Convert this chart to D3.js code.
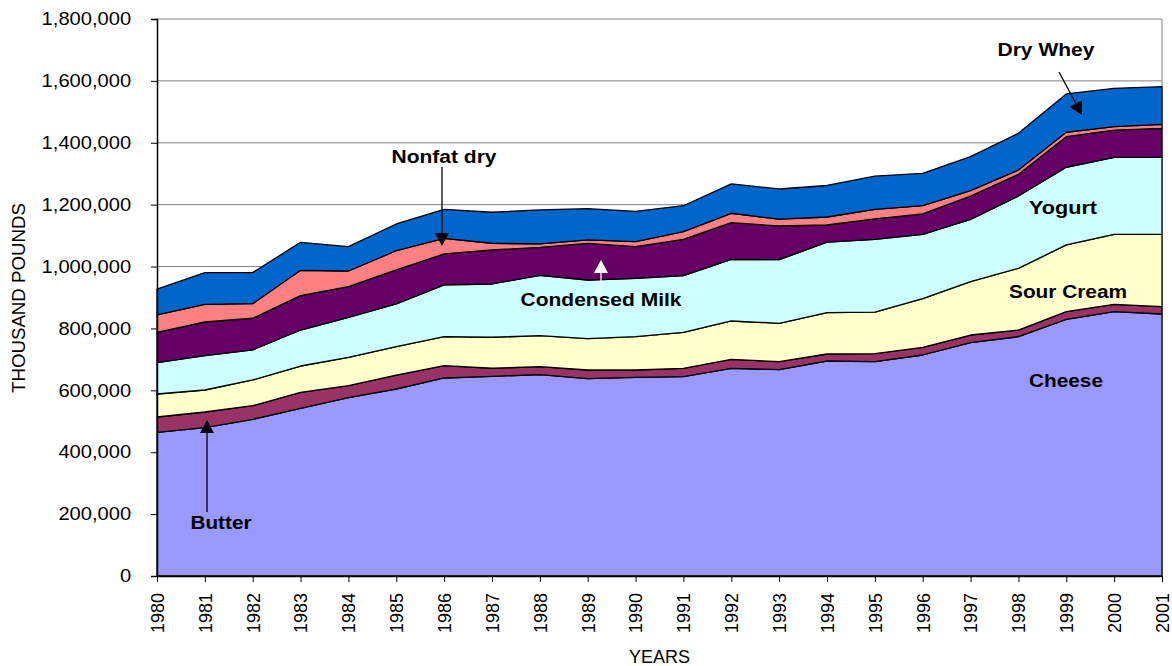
<!DOCTYPE html>
<html>
<head>
<meta charset="UTF-8">
<title>Dairy products</title>
<script src="https://d3js.org/d3.v7.min.js"></script>
<style>
  body { margin: 0; background: #fff; }
  svg { font-family: "Liberation Sans", Arial, sans-serif; }
  .note { font-weight: bold; font-size: 18px; fill: #000; }
</style>
</head>
<body>
<div id="chart"></div>
<script>
// data (thousand pounds)
const years = [1980, 1981, 1982, 1983, 1984, 1985, 1986, 1987, 1988, 1989, 1990,
               1991, 1992, 1993, 1994, 1995, 1996, 1997, 1998, 1999, 2000, 2001];
const cheese    = [464400, 479300, 506400, 541900, 576200, 604300, 639900, 645400, 650500, 637600, 642100,
                   644100, 671200, 666700, 694800, 692500, 714200, 753900, 773300, 829600, 854100, 846700];
const butter    = [49400, 50700, 44000, 51700, 38800, 45200, 39800, 25900, 25900, 28100, 23600,
                   27100, 29100, 25900, 22600, 25900, 24900, 24900, 21600, 24600, 23900, 23600];
const sourCream = [74400, 71100, 83100, 85000, 91800, 91500, 93700, 100200, 100200, 101200, 107600,
                   116300, 123800, 124100, 133500, 134100, 157100, 172200, 199400, 215600, 226200, 234000];
const yogurt    = [101200, 110800, 97000, 116300, 129300, 138000, 167100, 172200, 195200, 189700, 188700,
                   182900, 199400, 205500, 227800, 235600, 208100, 201700, 233700, 251100, 248800, 248800];
const condensed = [98200, 108900, 102400, 110900, 98900, 109900, 100200, 109900, 90500, 118600, 102100,
                   117600, 118300, 108900, 55600, 66300, 65600, 75300, 70100, 98900, 88200, 93700];
const nonfatDry = [56000, 57200, 47200, 82100, 50700, 62400, 50700, 21700, 10700, 10700, 16200,
                   24600, 30400, 22000, 25900, 30100, 26800, 17100, 13900, 14200, 10700, 12900];
const dryWhey   = [83100, 102100, 100200, 90500, 78500, 86300, 93700, 100200, 109900, 101200, 98200,
                   84000, 94700, 97600, 101800, 107600, 104700, 109900, 118600, 123800, 124100, 121500];
const yTicks = [0, 200000, 400000, 600000, 800000, 1000000, 1200000, 1400000, 1600000, 1800000];

const keys = ["cheese", "butter", "sourCream", "yogurt", "condensed", "nonfatDry", "dryWhey"];
const colors = {
  cheese: "#9999FF", butter: "#993366", sourCream: "#FFFFCC", yogurt: "#CCFFFF",
  condensed: "#660066", nonfatDry: "#FF8080", dryWhey: "#0066CC"
};
const series = { cheese, butter, sourCream, yogurt, condensed, nonfatDry, dryWhey };
const table = years.map((yr, i) => {
  const row = { year: yr };
  keys.forEach(k => row[k] = series[k][i]);
  return row;
});

const W = 1172, H = 666;
const margin = { top: 19, right: 10, bottom: 90, left: 157 };
const width = W - margin.left - margin.right,
      height = H - margin.top - margin.bottom;

const svg = d3.select("#chart").append("svg")
  .attr("width", W).attr("height", H);
const g = svg.append("g")
  .attr("transform", `translate(${margin.left},${margin.top})`);

const x = d3.scalePoint().domain(years).range([0, width]);
const y = d3.scaleLinear().domain([0, 1800000]).range([height, 0]);

// gridlines
g.selectAll(".grid").data(yTicks.slice(1)).enter().append("line")
  .attr("x1", 0).attr("x2", width)
  .attr("y1", d => y(d)).attr("y2", d => y(d))
  .attr("stroke", "#808080").attr("stroke-width", 1);
// right border of plot area
g.append("line")
  .attr("x1", width).attr("x2", width).attr("y1", 0).attr("y2", height)
  .attr("stroke", "#808080");

const stacked = d3.stack().keys(keys)(table);
const area = d3.area()
  .x(d => x(d.data.year))
  .y0(d => y(d[0]))
  .y1(d => y(d[1]));

g.selectAll(".layer").data(stacked).enter().append("path")
  .attr("class", "layer")
  .attr("d", area)
  .attr("fill", d => colors[d.key])
  .attr("stroke", "#000")
  .attr("stroke-width", 1.3)
  .attr("stroke-linejoin", "round");

// axes
const yAxis = g.append("g")
  .call(d3.axisLeft(y).tickValues(yTicks).tickFormat(d3.format(",")).tickSize(6).tickPadding(17));
yAxis.select(".domain").attr("stroke", "#000").attr("stroke-width", 1.5);
yAxis.selectAll("text").style("font-size", "18px").attr("fill", "#000")
  .attr("transform", "scale(1.12,1)");

const xAxis = g.append("g")
  .attr("transform", `translate(0,${height})`)
  .call(d3.axisBottom(x).tickSize(6).tickSizeOuter(0));
xAxis.select(".domain").attr("stroke", "#000").attr("stroke-width", 1.5);
xAxis.selectAll("text")
  .style("font-size", "18px").attr("fill", "#000")
  .attr("transform", "rotate(-90)")
  .attr("x", -17).attr("y", 0).attr("dy", "0.35em")
  .style("text-anchor", "end");

// axis titles
svg.append("text")
  .attr("x", margin.left + width / 2).attr("y", 663)
  .attr("text-anchor", "middle").style("font-size", "18px")
  .text("YEARS");
svg.append("text")
  .attr("transform", "translate(25,298) rotate(-90)")
  .attr("text-anchor", "middle").style("font-size", "18px")
  .attr("textLength", 190).attr("lengthAdjust", "spacingAndGlyphs")
  .text("THOUSAND POUNDS");

// annotations
function note(txt, cx, cy, len) {
  svg.append("text").attr("class", "note")
    .attr("x", cx).attr("y", cy).attr("dy", "0.35em")
    .attr("text-anchor", "middle")
    .attr("textLength", len).attr("lengthAdjust", "spacingAndGlyphs")
    .text(txt);
}
note("Butter", 221, 523, 61);
note("Nonfat dry", 444, 157, 105);
note("Condensed Milk", 601, 300, 161);
note("Dry Whey", 1046, 50, 97);
note("Yogurt", 1063, 208, 68);
note("Sour Cream", 1068, 292, 118);
note("Cheese", 1066, 381, 74);

function arrow(x1, y1, x2, y2, col) {
  const a = Math.atan2(y2 - y1, x2 - x1);
  const L = 13, hw = 7;
  const bx = x2 - L * Math.cos(a), by = y2 - L * Math.sin(a);
  svg.append("line")
    .attr("x1", x1).attr("y1", y1).attr("x2", bx).attr("y2", by)
    .attr("stroke", col).attr("stroke-width", 1.3);
  svg.append("path")
    .attr("d", `M${x2},${y2}L${bx - hw * Math.sin(a)},${by + hw * Math.cos(a)}L${bx + hw * Math.sin(a)},${by - hw * Math.cos(a)}Z`)
    .attr("fill", col);
}
arrow(207, 512, 207, 420, "#000");
arrow(442, 167, 442, 246, "#000");
arrow(601, 297, 601, 260, "#fff");
arrow(1059, 72, 1082, 115, "#000");
</script>
</body>
</html>
